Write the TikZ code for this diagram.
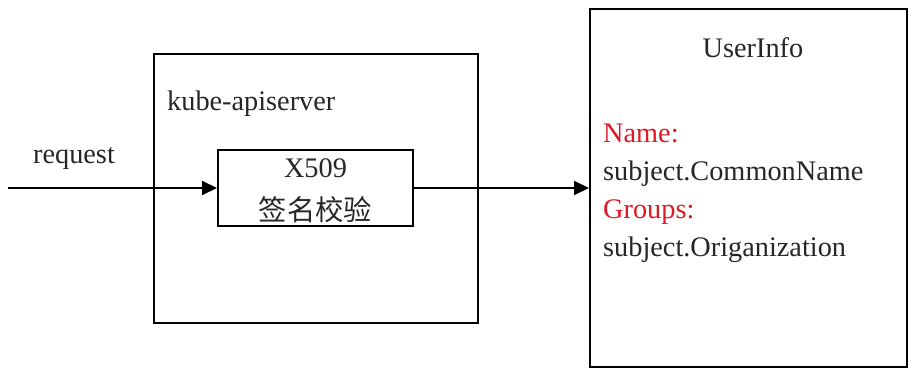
\documentclass[tikz,border=0pt]{standalone}
\usepackage{fontspec}
\setmainfont{Liberation Serif}
\newfontfamily\cjk{Noto Sans CJK SC}
\usetikzlibrary{arrows.meta}
\definecolor{keyred}{RGB}{222,24,36}
\tikzset{
  box/.style={draw=black, line width=2pt, rectangle, inner sep=0pt, fill=none},
  lbl/.style={inner sep=0pt, text=black!85, font=\fontsize{28.3}{33}\selectfont},
  keylbl/.style={lbl, text=keyred},
  arr/.style={line width=2pt, -{Triangle[length=15pt,width=14pt]}}
}
\begin{document}
\begin{tikzpicture}[x=1pt,y=-1pt]
  \useasboundingbox (0,0) rectangle (909,369);
  % apiserver frame and the certificate check inside it
  \node[box, minimum width=324pt, minimum height=269pt] (api) at (316,188.5) {};
  \node[box, minimum width=195pt, minimum height=76pt] (x509) at (315.5,188) {};
  \node[lbl, anchor=base west] (apilbl) at (167,110) {kube-apiserver};
  \node[lbl, anchor=base] (x509a) at (315.5,177) {X509};
  \node[lbl, anchor=center] (x509b) at (315.5,210) {\cjk 签名校验};
  % user info record
  \node[box, minimum width=317pt, minimum height=358pt] (info) at (748.5,188) {};
  \node[lbl, anchor=base] (infottl) at (753,58) {UserInfo};
  \node[keylbl, anchor=base west] (namek) at (603,142) {Name:};
  \node[lbl, anchor=base west] (namev) at (603,180) {subject.CommonName};
  \node[keylbl, anchor=base west] (grpk) at (603,218) {Groups:};
  \node[lbl, anchor=base west] (grpv) at (603,256) {subject.Origanization};
  % incoming request and the result flow
  \coordinate (in) at (8,188);
  \node[lbl, anchor=base] (reqlbl) at (74,163) {request};
  \draw[arr] (in) -- (x509.west);
  \draw[arr] (x509.east) -- (info.west);
\end{tikzpicture}
\end{document}
